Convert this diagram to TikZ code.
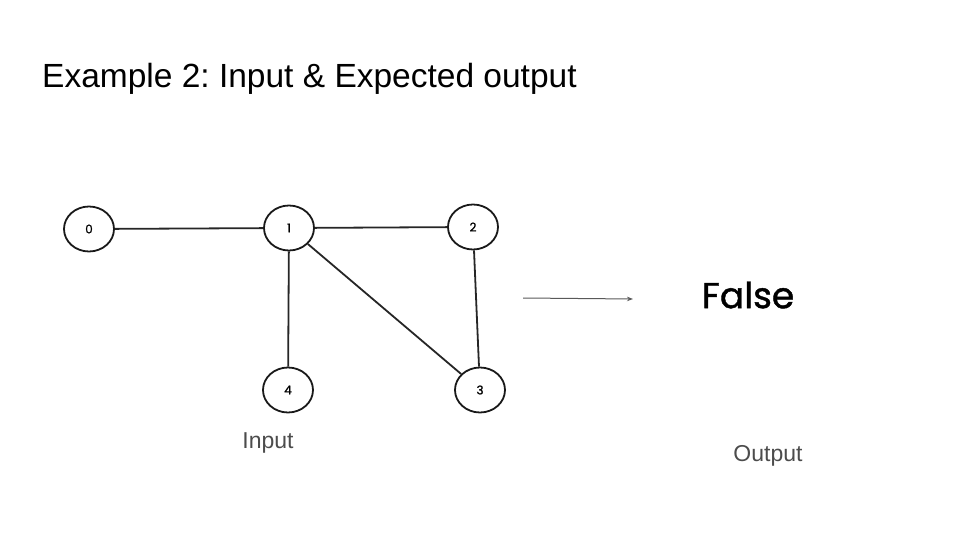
\documentclass[tikz,border=0pt]{standalone}
\usepackage{fontspec}
\setmainfont{Liberation Sans}
\newfontfamily\handfont{Poppins}
\newfontfamily\handfontb[FakeBold=1.2]{Poppins}
\tikzset{
  vert/.style={draw=black!90, line width=1.8pt, ellipse, minimum width=50pt, minimum height=45pt, inner sep=0pt, font=\handfontb\fontsize{12}{14}\selectfont},
  edge/.style={line width=1.8pt, draw=black!85},
  lbl/.style={text=black!70, font=\fontsize{23}{27}\selectfont},
}
\usetikzlibrary{shapes.geometric,arrows.meta}
\begin{document}
\frenchspacing
\begin{tikzpicture}[x=1pt,y=-1pt]
\useasboundingbox (0,0) rectangle (960,540);
\node[anchor=base west, inner sep=0pt, font=\fontsize{33.5}{40}\selectfont] (title) at (42,88) {Example 2: Input \& Expected output};
\node[vert] (n0) at (89,229) {0};
\node[vert] (n1) at (289,228) {1};
\node[vert] (n2) at (473,227) {2};
\node[vert] (n3) at (480,390) {3};
\node[vert] (n4) at (288,390) {4};
\draw[edge] (n0) -- (n1);
\draw[edge] (n1) -- (n2);
\draw[edge] (n1) -- (n4);
\draw[edge] (n1) -- (n3);
\draw[edge] (n2) -- (n3);
\coordinate (as) at (523,298);
\coordinate (ae) at (633,299);
\draw[black!65, line width=1pt, -{Stealth[length=6pt,width=4.5pt]}] (as) -- (ae);
\node[font=\handfontb\fontsize{36}{42}\selectfont] (res) at (748,295) {False};
\node[lbl] (in) at (268,443) {Input};
\node[lbl] (out) at (768,456) {Output};
\end{tikzpicture}
\end{document}
